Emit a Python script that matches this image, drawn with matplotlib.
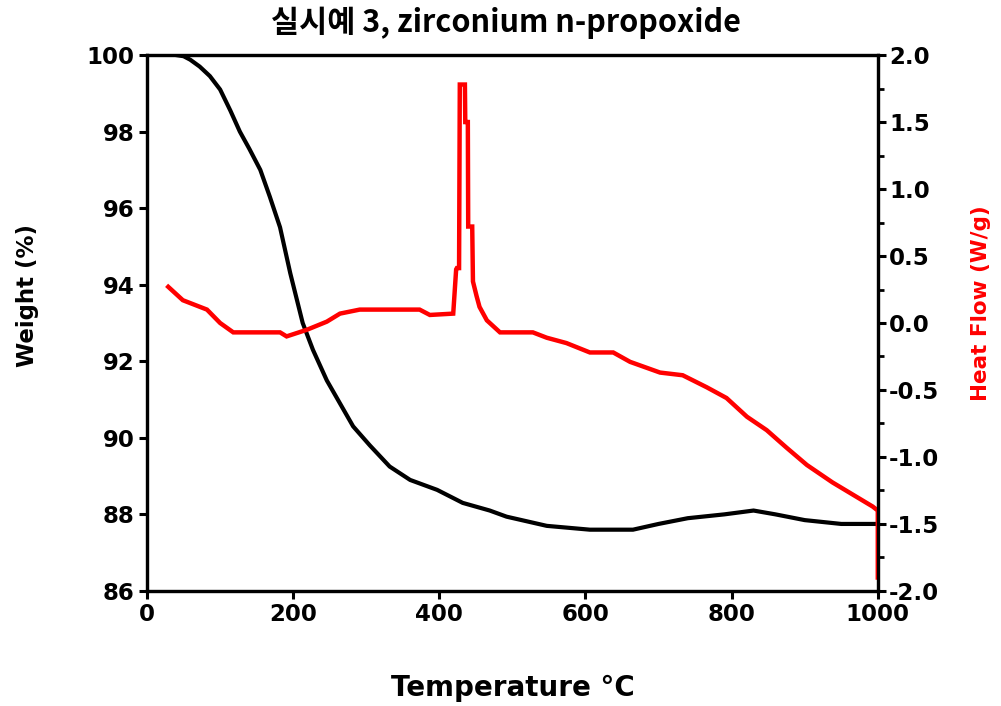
import matplotlib
matplotlib.use("Agg")
import matplotlib.pyplot as plt
from matplotlib.ticker import MultipleLocator

# Weight (%) curve
temp_w = [40, 50, 59, 72, 86, 100, 114, 127, 140, 155, 168, 182, 196, 213, 227, 246, 264,
          282, 305, 332, 360, 397, 432, 469, 492, 547, 606, 665, 700, 740, 790, 830, 860,
          900, 950, 1000]
weight = [100.0, 99.97, 99.88, 99.7, 99.45, 99.1, 98.55, 98.0, 97.55, 97.0, 96.3, 95.5,
          94.3, 93.0, 92.3, 91.5, 90.9, 90.3, 89.8, 89.25, 88.9, 88.64, 88.3, 88.1, 87.94,
          87.7, 87.6, 87.6, 87.75, 87.9, 88.0, 88.1, 88.0, 87.85, 87.75, 87.75]

# Heat flow (W/g) curve
temp_h = [29, 49, 82, 100, 118, 182, 191, 219, 246, 264, 291, 373, 387, 419, 423, 424, 427,
          428, 435, 435.5, 439, 439.5, 445, 446, 451, 455, 465, 483, 528, 547, 574, 606,
          638, 661, 702, 733, 766, 793, 821, 848, 875, 903, 938, 993, 1000, 1000]
heat = [0.27, 0.17, 0.10, 0.0, -0.07, -0.07, -0.10, -0.05, 0.01, 0.07, 0.10, 0.10, 0.06, 0.07,
        0.40, 0.41, 0.41, 1.78, 1.78, 1.50, 1.50, 0.72, 0.72, 0.31, 0.20, 0.12, 0.02, -0.07,
        -0.07, -0.11, -0.15, -0.22, -0.22, -0.29, -0.37, -0.39, -0.48, -0.56, -0.70, -0.80,
        -0.93, -1.06, -1.19, -1.37, -1.40, -1.90]

x_ticks = [0, 200, 400, 600, 800, 1000]
w_ticks = [86, 88, 90, 92, 94, 96, 98, 100]
h_ticks = [-2.0, -1.5, -1.0, -0.5, 0.0, 0.5, 1.0, 1.5, 2.0]

title = "실시예 3, zirconium n-propoxide"

fig = plt.figure(figsize=(10.01, 7.06), dpi=100)
ax = fig.add_axes([0.1469, 0.163, 0.730, 0.759])
ax2 = ax.twinx()

ax.plot(temp_w, weight, color="black", lw=3.0, solid_joinstyle="miter")
ax2.plot(temp_h, heat, color="#ff0000", lw=3.2, solid_joinstyle="miter")

ax.set_xlim(0, 1000)
ax.set_ylim(86, 100)
ax2.set_ylim(-2.0, 2.0)

tick_font = dict(family="DejaVu Sans", weight="bold", size=16.5)
ax.set_xticks(x_ticks)
ax.set_xticklabels([str(v) for v in x_ticks], **tick_font)
ax.set_yticks(w_ticks)
ax.set_yticklabels([str(v) for v in w_ticks], **tick_font)
ax2.set_yticks(h_ticks)
ax2.set_yticklabels([f"{v:.1f}" for v in h_ticks], **tick_font)
ax2.yaxis.set_minor_locator(MultipleLocator(0.25))

for a in (ax, ax2):
    for s in a.spines.values():
        s.set_linewidth(2.3)
ax.tick_params(axis="both", which="major", direction="out", length=6, width=2.2, pad=3)
ax2.tick_params(axis="y", which="major", direction="out", length=6, width=2.2, pad=2)
ax2.tick_params(axis="y", which="minor", direction="out", length=4, width=2.0)

ax.set_xlabel("Temperature °C", family="DejaVu Sans", weight="bold", size=20)
ax.xaxis.set_label_coords(0.5, -0.155)
ax.set_ylabel("Weight (%)", family="DejaVu Sans", weight="bold", size=16.5)
ax.yaxis.set_label_coords(-0.148, 0.552)
ax2.set_ylabel("Heat Flow (W/g)", family="DejaVu Sans", weight="bold", size=15.5,
               color="#ff0000")
ax2.yaxis.set_label_coords(1.127, 0.537)

fig.text(0.505, 0.968, title, ha="center", va="center",
         family=["Noto Sans CJK KR", "DejaVu Sans"], weight="bold", size=22)

fig.savefig("out.png", dpi=100)
